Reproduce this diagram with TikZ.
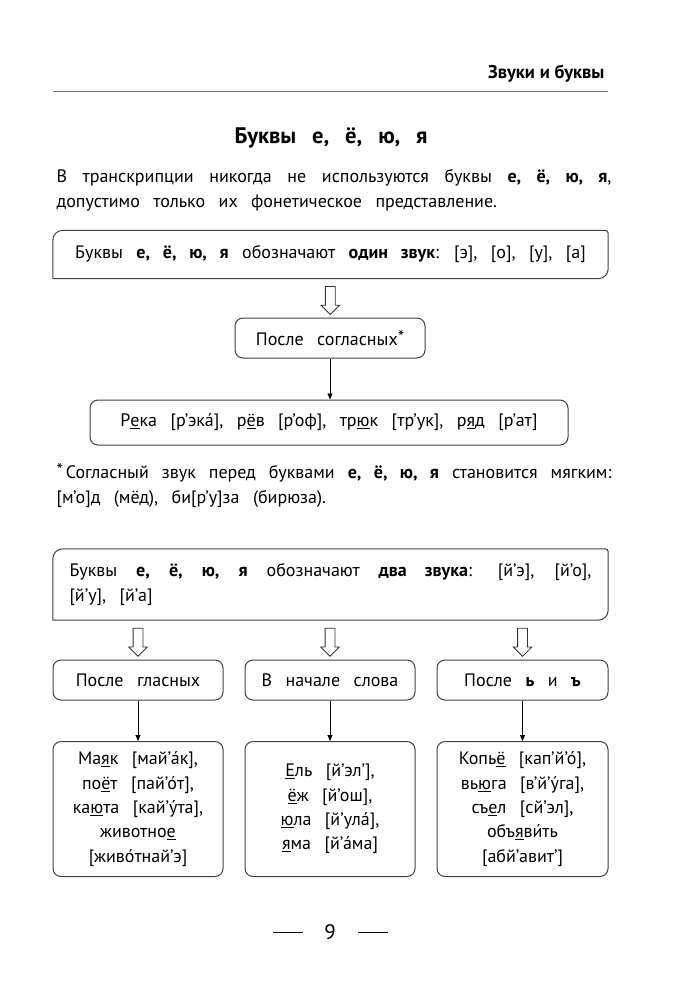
\documentclass[tikz,border=0pt]{standalone}
\usepackage{fontspec}
\setmainfont[WordSpace={2.8}]{PT Sans}
\newfontfamily\tightsans{PT Sans}
\usetikzlibrary{arrows.meta,shapes.arrows,calc}

\newcommand{\undl}[1]{\underline{#1}}
\newcommand{\fnmark}{\raisebox{0.25ex}{*}}
% frame with two big rounded corners
\newcommand{\notchframe}[1]{%
  \draw[edge] (#1.south west) -- ([yshift=-10pt]#1.north west)
    arc[start angle=180, end angle=90, radius=10pt]
    -- ([xshift=-3pt]#1.north east)
    arc[start angle=90, end angle=0, radius=3pt]
    -- ([yshift=10pt]#1.south east)
    arc[start angle=0, end angle=-90, radius=10pt] -- cycle;}

\begin{document}
\begin{tikzpicture}[
    x=1pt, y=-1pt,
    txt/.style={font=\fontsize{18}{25}\selectfont},
    edge/.style={draw=black!75, line width=1pt},
    wide/.style={txt, inner sep=0pt, minimum width=555pt},
    cell/.style={txt, edge, rounded corners=8pt, inner sep=0pt, align=center},
    list/.style={cell, font=\fontsize{18}{24.3}\selectfont, minimum height=135pt},
    hollow/.style={single arrow, draw=black!80, line width=0.8pt, shape border rotate=270,
      inner sep=4.5pt, single arrow head extend=4.5pt, minimum height=28pt},
    thin/.style={black, line width=0.8pt, -{Triangle[length=6pt, width=5pt]}}
  ]
  \useasboundingbox (0,0) rectangle (682,1000);

  % Header
  \node[font=\tightsans\fontsize{18.5}{22}\selectfont\bfseries, anchor=east] (head) at (608,74) {Звуки и буквы};
  \draw[black!55, line width=1pt] (53,92) -- (608,92);
  \node[font=\fontsize{22.5}{26}\selectfont\bfseries] (title) at (331,138) {Буквы е, ё, ю, я};
  \node[txt, text width=555pt, align=justify, anchor=north west] (intro) at (53,166)
    {В транскрипции никогда не используются буквы \textbf{е, ё, ю, я},\linebreak{}
     допустимо только их фонетическое представление.};

  % Block 1: one sound
  \node[wide, minimum height=48pt] (one) at (330.5,254.5)
    {Буквы \textbf{е, ё, ю, я} обозначают \textbf{один звук}: [э], [о], [у], [а]};
  \notchframe{one}
  \node[cell, minimum width=190pt, minimum height=40pt] (cons) at (330,338) {После согласных\fnmark};
  \node[hollow] (h0) at ($(one.south)!.5!(cons.north)$) {};
  \node[cell, minimum width=478pt, minimum height=45pt] (rek) at (329,422.5)
    {Р\undl{е}ка [р’эка́], р\undl{ё}в [р’оф], тр\undl{ю}к [тр’ук], р\undl{я}д [р’ат]};
  \draw[thin] (cons.south) -- (cons.south |- rek.north);

  % Footnote
  \node[txt, text width=555pt, align=justify, anchor=north west] (note) at (53,460)
    {\fnmark\,Согласный звук перед буквами \textbf{е, ё, ю, я} становится мягким:\linebreak{}
     [м’о]д (мёд), би[р’у]за (бирюза).};

  % Block 2: two sounds
  \node[wide, minimum height=71pt, text width=522pt, align=justify] (two) at (330.5,584.5)
    {Буквы \textbf{е, ё, ю, я} обозначают \textbf{два звука}: [й’э], [й’о],\linebreak{}[й’у], [й’а]};
  \notchframe{two}

  \node[cell, minimum width=170pt, minimum height=40pt] (p1) at (138,680) {После гласных};
  \node[cell, minimum width=170pt, minimum height=40pt] (p2) at (330,680) {В начале слова};
  \node[cell, minimum width=171pt, minimum height=40pt] (p3) at (522.5,680) {После \textbf{ь} и \textbf{ъ}};
  \foreach \k in {1,2,3}
    \node[hollow] (h\k) at ($(p\k.north)!.5!(p\k.north |- two.south)$) {};

  \node[list, minimum width=170pt] (e1) at (138,809)
    {Ма\undl{я}к [май’а́к],\\ по\undl{ё}т [пай’о́т],\\ ка\undl{ю}та [кай’у́та],\\ животно\undl{е}\\{}[живо́тнай’э]};
  \node[list, minimum width=170pt] (e2) at (330,809)
    {\undl{Е}ль [й’эл’],\\ \undl{ё}ж [й’ош],\\ \undl{ю}ла [й’ула́],\\ \undl{я}ма [й’а́ма]};
  \node[list, minimum width=171pt] (e3) at (522.5,809)
    {Копь\undl{ё} [кап’й’о́],\\ вь\undl{ю}га [в’й’у́га],\\ съ\undl{е}л [сй’эл],\\ объ\undl{я}ви́ть\\{}[абй’авит’]};
  \foreach \k in {1,2,3}
    \draw[thin] (p\k) -- (e\k);

  % Page number
  \node[font=\tightsans\fontsize{21}{24}\selectfont] (page) at (330,932) {9};
  \draw[black, line width=1pt] ([xshift=-27pt]page.center) -- ++(-30,0);
  \draw[black, line width=1pt] ([xshift=28pt]page.center) -- ++(30,0);
\end{tikzpicture}
\end{document}
